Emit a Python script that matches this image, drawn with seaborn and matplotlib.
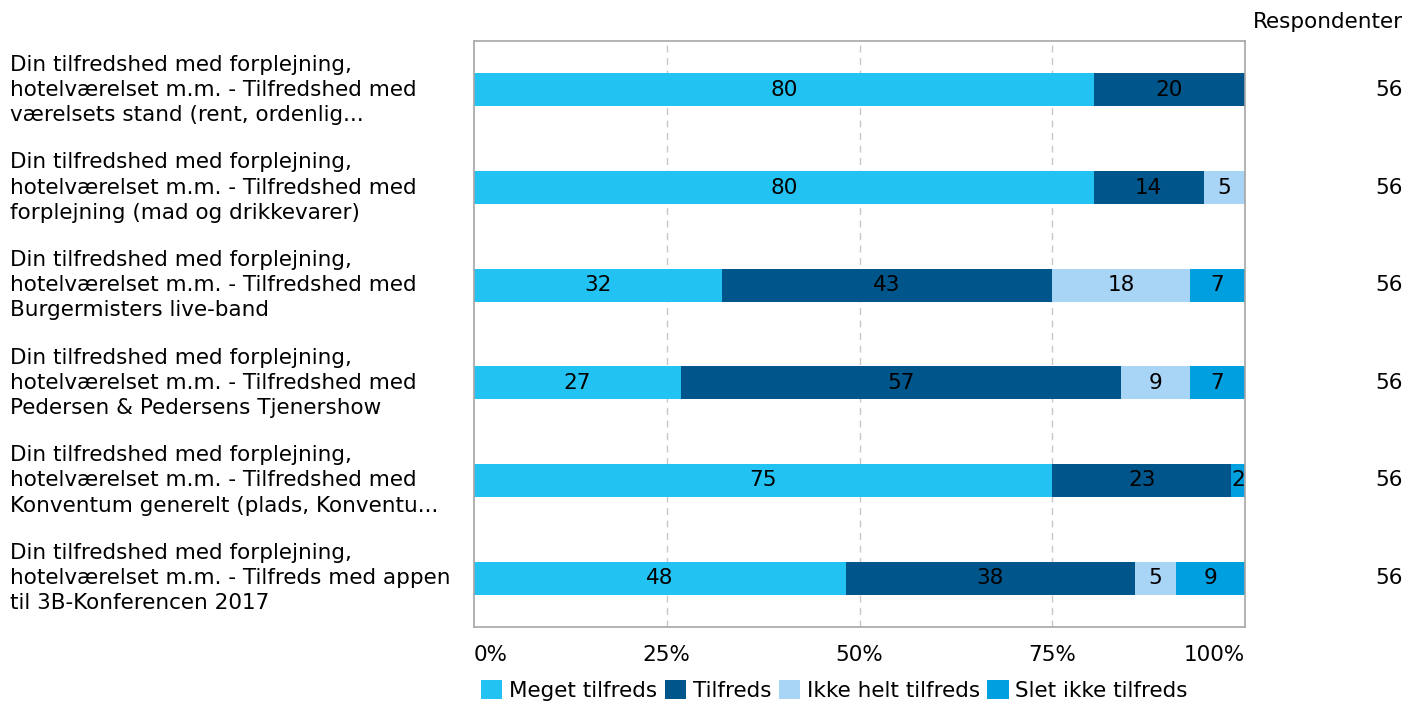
import numpy as np
import pandas as pd
import matplotlib
matplotlib.use("Agg")
import matplotlib.pyplot as plt
import matplotlib.transforms as mtransforms
from matplotlib.patches import Patch
import seaborn as sns

# survey rows (as shown, truncated like the source)
questions = [
    "Din tilfredshed med forplejning,\nhotelværelset m.m. - Tilfredshed med\nværelsets stand (rent, ordenlig...",
    "Din tilfredshed med forplejning,\nhotelværelset m.m. - Tilfredshed med\nforplejning (mad og drikkevarer)",
    "Din tilfredshed med forplejning,\nhotelværelset m.m. - Tilfredshed med\nBurgermisters live-band",
    "Din tilfredshed med forplejning,\nhotelværelset m.m. - Tilfredshed med\nPedersen & Pedersens Tjenershow",
    "Din tilfredshed med forplejning,\nhotelværelset m.m. - Tilfredshed med\nKonventum generelt (plads, Konventu...",
    "Din tilfredshed med forplejning,\nhotelværelset m.m. - Tilfreds med appen\ntil 3B-Konferencen 2017",
]
answers = ["Meget tilfreds", "Tilfreds", "Ikke helt tilfreds", "Slet ikke tilfreds"]

# answer counts per row (56 respondents each)
meget = [45, 45, 18, 15, 42, 27]
tilfreds = [11, 8, 24, 32, 13, 21]
ikke_helt = [0, 3, 10, 5, 0, 3]
slet_ikke = [0, 0, 4, 4, 1, 5]
respondents = [56, 56, 56, 56, 56, 56]

colors = ["#22c3f3", "#00558a", "#a8d4f5", "#009fe0"]

counts = np.array([meget, tilfreds, ikke_helt, slet_ikke], dtype=float)
pct = counts / np.array(respondents) * 100
cum = np.cumsum(pct, axis=0)

rows = []
for i, q in enumerate(questions):
    for j, a in enumerate(answers):
        rows.append({"question": q, "answer": a, "pct": pct[j, i], "cum": cum[j, i]})
df = pd.DataFrame(rows)

sns.set_theme(style="white")
plt.rcParams["font.family"] = ["DejaVu Sans"]
plt.rcParams["text.color"] = "black"
plt.rcParams["xtick.color"] = "black"

FS = 15.5

fig = plt.figure(figsize=(14.06, 7.04), dpi=100)
ax = fig.add_axes([474 / 1406, 1 - 627 / 704, 771 / 1406, 586 / 704])

# stacked bars: draw cumulative totals from the back to the front
for j in range(len(answers) - 1, -1, -1):
    sub = df[df["answer"] == answers[j]]
    sns.barplot(data=sub, x="cum", y="question", color=colors[j], width=0.34,
                saturation=1, linewidth=0, ax=ax, zorder=2)

for _, r in df.iterrows():
    if r["pct"] > 0:
        ax.text(r["cum"] - r["pct"] / 2, questions.index(r["question"]),
                f"{round(r['pct']):.0f}", ha="center", va="center", fontsize=FS,
                color="black", zorder=3)

ax.set_xlim(0, 100)
ax.set_ylim(5.5, -0.5)
ax.set_xticks([0, 25, 50, 75, 100])
ax.set_xticklabels(["0%", "25%", "50%", "75%", "100%"], fontsize=FS)
tl = ax.get_xticklabels()
tl[0].set_ha("left")
tl[-1].set_ha("right")
ax.tick_params(axis="x", length=0, pad=13)
ax.set_yticks([])
ax.set_xlabel("")
ax.set_ylabel("")
for x in [25, 50, 75]:
    ax.axvline(x, color="#c8c8c8", linestyle=(0, (5, 4)), linewidth=1, zorder=1)
for s in ax.spines.values():
    s.set_color("#a6a6a6")
    s.set_linewidth(1.2)

trans = mtransforms.blended_transform_factory(fig.transFigure, ax.transData)
for i, q in enumerate(questions):
    ax.text(10 / 1406, i, q, transform=trans, ha="left", va="center",
            fontsize=FS, linespacing=1.32, clip_on=False)
    ax.text(1403 / 1406, i, str(respondents[i]), transform=trans, ha="right",
            va="center", fontsize=FS, clip_on=False)
fig.text(1403 / 1406, 1 - 22 / 704, "Respondenter", ha="right", va="center", fontsize=FS)

handles = [Patch(facecolor=c, edgecolor="none") for c in colors]
fig.legend(handles, answers, loc="lower left", bbox_to_anchor=(468 / 1406, -0.014),
           ncol=4, frameon=False, fontsize=FS, handlelength=1.0, handleheight=1.0,
           handletextpad=0.3, columnspacing=0.35, borderaxespad=0.2)

fig.savefig("out.png", dpi=100)
